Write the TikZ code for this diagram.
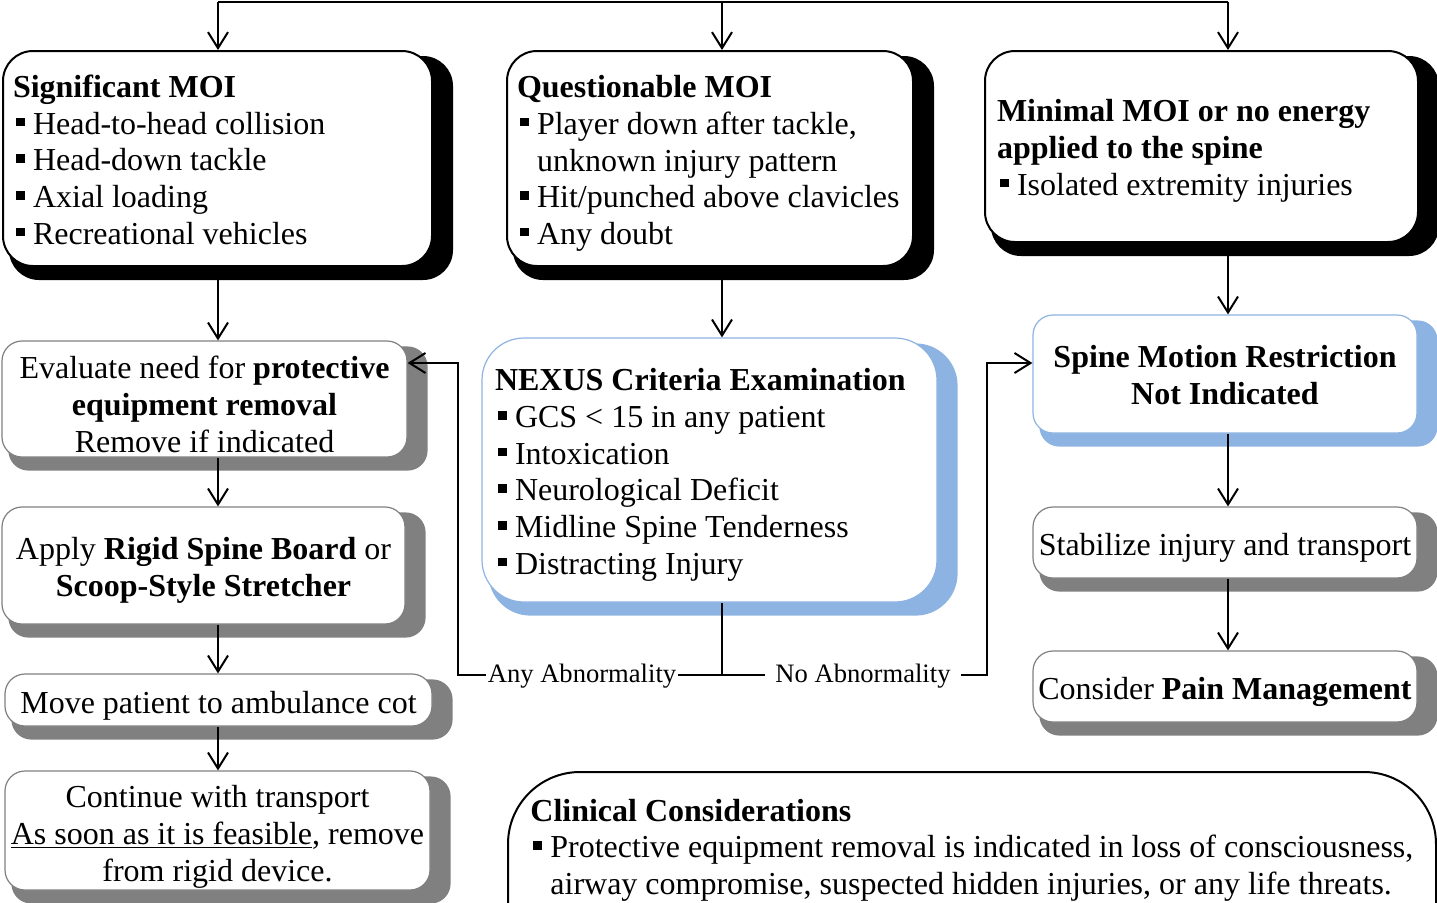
\documentclass[tikz,border=0pt]{standalone}
\usepackage{fontspec}
\setmainfont{Liberation Serif}
\usetikzlibrary{arrows.meta,calc,backgrounds}
\definecolor{sblue}{HTML}{8DB3E2}
\definecolor{sgray}{HTML}{808080}
\newcommand\bul{\hspace*{1.5pt}\rule[4pt]{4.3pt}{4.3pt}\hspace*{4.2pt}}
\newcommand\ind{\hspace*{10pt}}
\newcommand\shd[3]{\fill[#2, rounded corners=#3] ($(#1.north west)+(7,6)$) rectangle ($(#1.south east)+(20,13)$);}
\begin{document}
\begin{tikzpicture}[x=0.5pt,y=-0.5pt,
  base/.style={font=\fontsize{16}{18.5}\selectfont, fill=white, inner sep=0pt},
  lst/.style={font=\fontsize{16}{18.35}\selectfont},
  blk/.style={base, lst, draw=black, line width=1pt, rounded corners=15pt, align=flush left},
  grybox/.style={base, draw=sgray, line width=0.6pt, rounded corners=10pt, align=flush center},
  blubox/.style={base, draw=sblue, line width=0.6pt, align=flush center},
  lbl/.style={font=\fontsize{13.3}{15}\selectfont, fill=white, inner ysep=1pt},
  arr/.style={line width=1pt, -{Straight Barb[length=8pt,width=10pt,line width=1pt]}},
  ln/.style={line width=1pt}
]
\useasboundingbox (0,0) rectangle (1437,902);

% top row
\node[blk, minimum height=107.5pt, inner xsep=5pt, text width=204.5pt, text height=12.5pt] (b1) at (217.5,158.5)
  {\textbf{Significant MOI}\\ \bul Head-to-head collision\\ \bul Head-down tackle\\ \bul Axial loading\\ \bul Recreational vehicles};
\node[blk, minimum height=107.5pt, inner xsep=3.5pt, text width=196pt, text height=16pt] (b2) at (710,158.5)
  {\hspace*{1.5pt}\textbf{Questionable MOI}\\ \hspace*{1.5pt}\bul Player down after tackle,\\ \hspace*{1.5pt}\ind unknown injury pattern\\ \hspace*{1.5pt}\bul Hit/punched above clavicles\\ \hspace*{1.5pt}\bul Any doubt};
\node[blk, minimum height=95.5pt, inner xsep=6pt, text width=204.5pt, text height=15.5pt] (b3) at (1201.5,146.5)
  {\textbf{Minimal MOI or no energy}\\ \textbf{applied to the spine}\\ \bul Isolated extremity injuries};

% left column
\node[grybox, minimum height=58pt, text width=202.5pt, text height=17pt] (b4) at (204.5,399)
  {Evaluate need for \textbf{protective}\\ \textbf{equipment removal}\\ Remove if indicated};
\node[grybox, minimum height=58.5pt, text width=201.5pt, text height=15.5pt] (b5) at (203.5,565.5)
  {Apply \textbf{Rigid Spine Board} or\\ \textbf{Scoop-Style Stretcher}};
\node[grybox, minimum width=213.5pt, minimum height=26pt, text height=17pt] (b6) at (218.5,700)
  {Move patient to ambulance cot};
\node[grybox, minimum height=59.5pt, text width=212.5pt, text height=17.5pt] (b7) at (217.5,830.5)
  {Continue with transport\\ \underline{As soon as it is feasible}, remove\\ from rigid device.};

% middle
\node[blubox, lst, rounded corners=21pt, align=flush left, minimum height=132pt, inner xsep=6.5pt, text width=214.5pt, text height=16pt] (nx) at (709.5,470)
  {\textbf{NEXUS Criteria Examination}\\ \bul GCS < 15 in any patient\\ \bul Intoxication\\ \bul Neurological Deficit\\ \bul Midline Spine Tenderness\\ \bul Distracting Injury};

% right column
\node[blubox, rounded corners=10pt, minimum height=59pt, text width=192pt, text height=12.5pt] (smr) at (1225,374)
  {\textbf{Spine Motion Restriction}\\ \textbf{Not Indicated}};
\node[grybox, minimum width=192pt, minimum height=35.5pt, text height=16pt] (stab) at (1225,542.5)
  {Stabilize injury and transport};
\node[grybox, minimum width=192pt, minimum height=35.5pt, text height=17pt] (cons) at (1225,686.5)
  {Consider \textbf{Pain Management}};

% clinical considerations
\node[base, draw=black, line width=1pt, rounded corners=36pt, minimum width=464pt, minimum height=114pt] (clin) at (972,886) {};
\node[base, fill=none, font=\fontsize{16}{18.25}\selectfont, anchor=base west, align=flush left] (ct) at (530,894)
  {\textbf{Clinical Considerations}\\ \bul Protective equipment removal is indicated in loss of consciousness,\\ \ind airway compromise, suspected hidden injuries, or any life threats.};

% shadows
\begin{scope}[on background layer]
  \shd{b1}{black}{15pt}
  \shd{b2}{black}{15pt}
  \shd{b3}{black}{15pt}
  \shd{b4}{sgray}{10pt}
  \shd{b5}{sgray}{10pt}
  \shd{b6}{sgray}{10pt}
  \shd{b7}{sgray}{10pt}
  \shd{nx}{sblue}{21pt}
  \shd{smr}{sblue}{10pt}
  \shd{stab}{sgray}{10pt}
  \shd{cons}{sgray}{10pt}
\end{scope}

% top connectors
\coordinate (t1) at (218,2);
\coordinate (t2) at (722,2);
\coordinate (t3) at (1228,2);
\draw[ln] (t1) -- (t3);
\draw[arr] (t1) -- (t1 |- b1.north);
\draw[arr] (t2) -- (t2 |- b2.north);
\draw[arr] (t3) -- (t3 |- b3.north);

% left column connectors
\draw[arr] (t1 |- b1.south) -- (t1 |- b4.north);
\draw[arr] (t1 |- b4.south) -- (t1 |- b5.north);
\draw[arr] (t1 |- b5.south) -- (t1 |- b6.north);
\draw[arr] (t1 |- b6.south) -- (t1 |- b7.north);

% middle
\draw[arr] (t2 |- b2.south) -- (t2 |- nx.north);
\coordinate (sp) at (722,675);
\coordinate (lc) at (458,675);
\coordinate (rc) at (987,675);
\draw[ln] (t2 |- nx.south) -- (sp);
\draw[arr] (sp) -- (lc) -- (458,363) -- (b4.east |- 0,363);
\draw[arr] (sp) -- (rc) -- (987,363) -- (smr.west |- 0,363);
\node[lbl, inner xsep=1pt] (la) at (582,676) {Any Abnormality};
\node[lbl, inner xsep=5pt] (ra) at (863,676) {No Abnormality};

% right column
\draw[arr] (t3 |- b3.south) -- (t3 |- smr.north);
\draw[arr] (t3 |- smr.south) -- (t3 |- stab.north);
\draw[arr] (t3 |- stab.south) -- (t3 |- cons.north);
\end{tikzpicture}
\end{document}
